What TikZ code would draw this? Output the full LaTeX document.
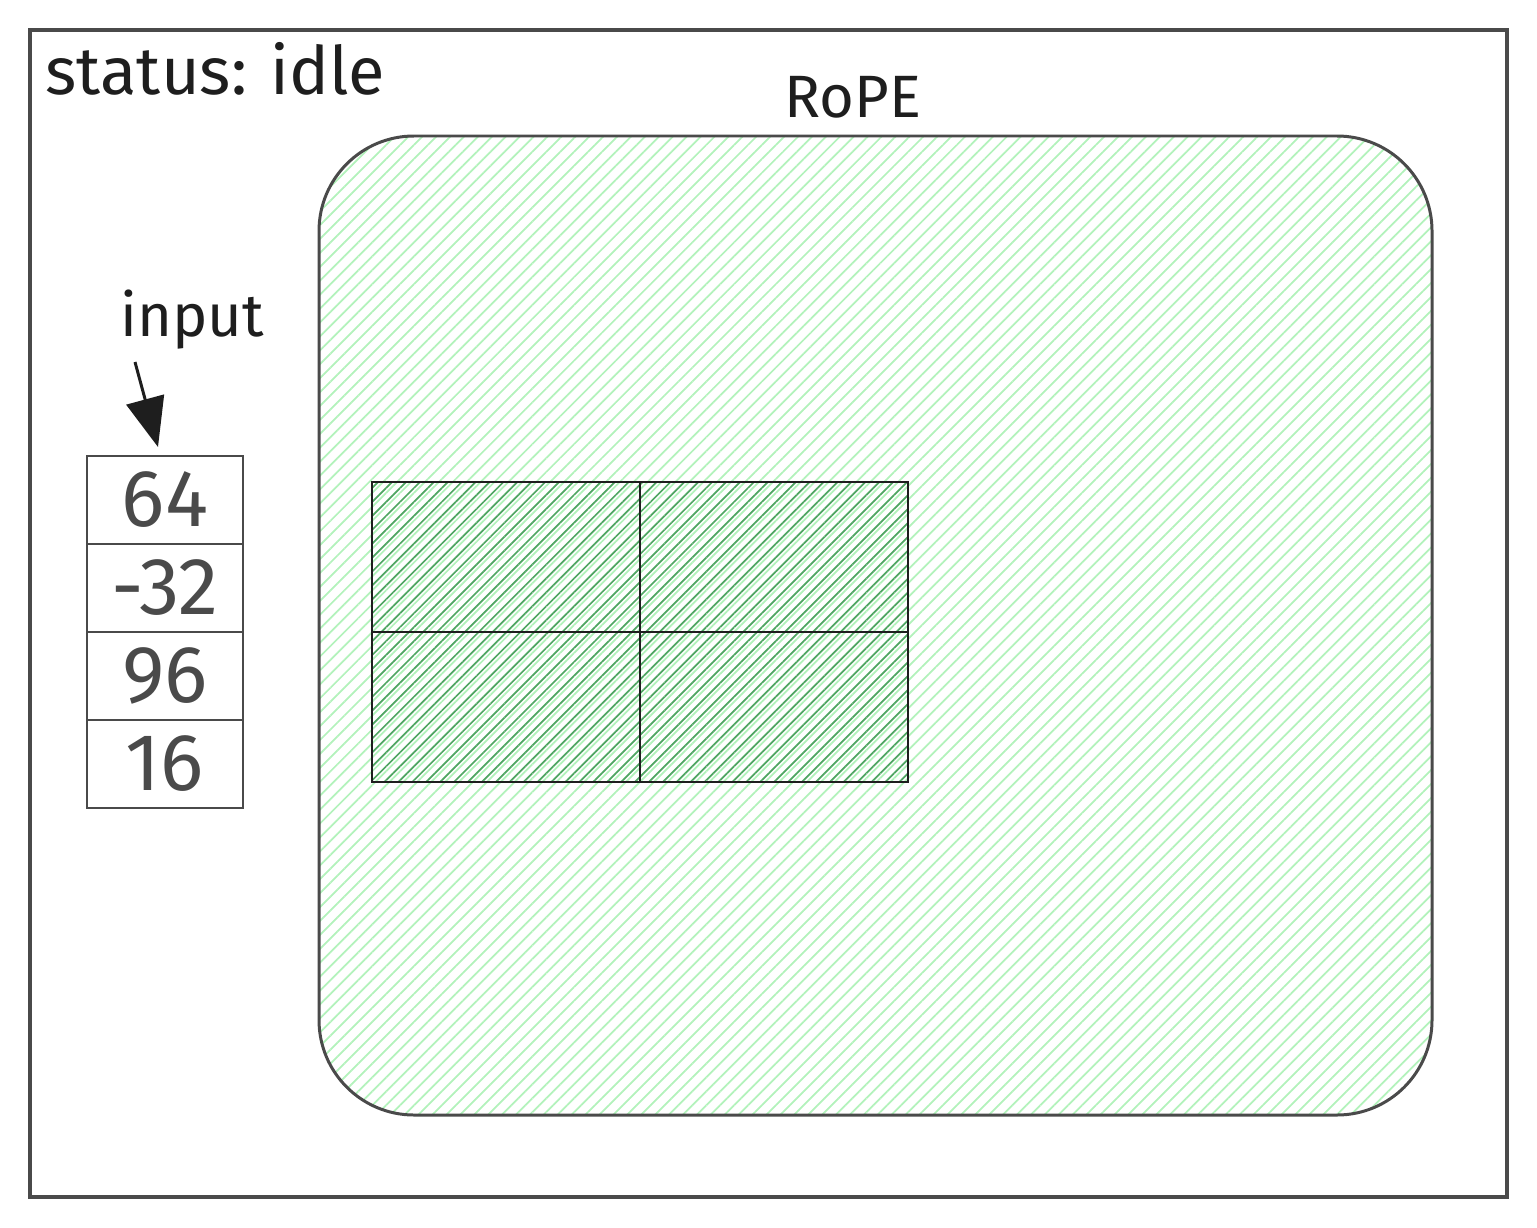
\documentclass[tikz,border=0pt]{standalone}
\usepackage{fontspec}
\setmainfont{Fira Sans}
\usetikzlibrary{positioning,arrows.meta,patterns.meta}
\definecolor{framegray}{HTML}{4A4A4A}
\definecolor{inkblack}{HTML}{1E1E1E}
\definecolor{hatchlight}{HTML}{B2F2BB}
\definecolor{hatchdark}{HTML}{4FA662}
\tikzset{
    lighthatch/.style={pattern={Lines[angle=45,distance=2.8pt,line width=0.5pt]},pattern color=hatchlight},
    darkhatch/.style={pattern={Lines[angle=45,distance=2.8pt,yshift=1.4pt,line width=0.5pt]},pattern color=hatchdark},
    gridcell/.style={draw=inkblack,line width=0.7pt,darkhatch,minimum width=2.68cm,minimum height=1.5cm,inner sep=0pt,outer sep=0pt},
    valcell/.style={draw=framegray,line width=0.7pt,minimum width=1.56cm,minimum height=0.88cm,inner sep=0pt,outer sep=0pt,text=framegray,font=\fontsize{23}{25}\selectfont},
    caption/.style={text=inkblack,inner sep=0pt}
}
\begin{document}
\begin{tikzpicture}
            \useasboundingbox (0,0) rectangle (15.37,-12.27);
            \draw[framegray,line width=0.95pt] (0.30,-0.30) rectangle (15.07,-11.97);
            \node[caption,anchor=base west,font=\fontsize{19}{22}\selectfont] (status) at (0.45,-0.95) {status: idle};
            \node[draw=framegray,line width=0.85pt,lighthatch,rounded corners=0.95cm,minimum width=11.13cm,minimum height=9.79cm,outer sep=0pt] (rope) at (8.755,-6.255) {};
            \node[caption,font=\fontsize{17}{20}\selectfont] (ropetitle) at (8.53,-0.97) {RoPE};
            \node[gridcell] (g11) at (5.06,-5.57) {};
            \node[gridcell,right=0pt of g11] (g12) {};
            \node[gridcell,below=0pt of g11] (g21) {};
            \node[gridcell,right=0pt of g21] (g22) {};
            \node[valcell] (c1) at (1.65,-5.00) {64};
            \node[valcell,below=0pt of c1] (c2) {-32};
            \node[valcell,below=0pt of c2] (c3) {96};
            \node[valcell,below=0pt of c3] (c4) {16};
            \node[caption,font=\fontsize{17}{20}\selectfont] (inputlabel) at (1.92,-3.20) {input};
            \coordinate (inputtail) at (1.35,-3.62);
            \draw[-{Triangle[length=14pt,width=11pt]},line width=0.85pt,inkblack] (inputtail) -- ([xshift=-0.07cm,yshift=0.09cm]c1.north);
\end{tikzpicture}
\end{document}
